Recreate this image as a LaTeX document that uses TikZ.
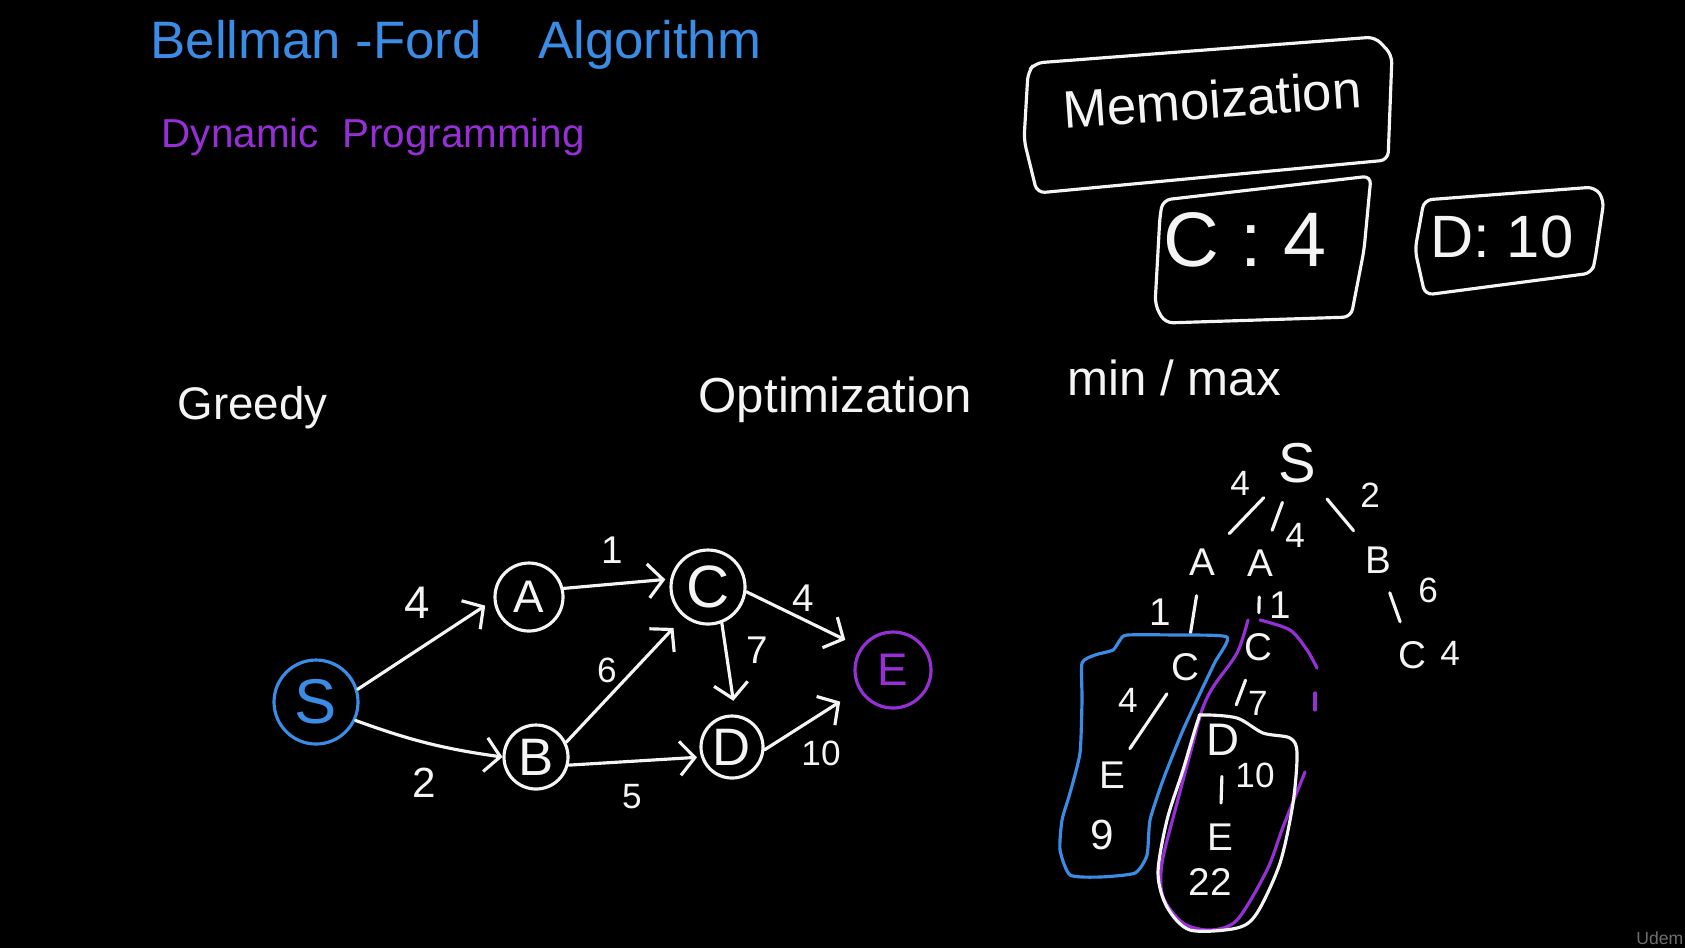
\documentclass[tikz,border=0pt]{standalone}
\usepackage{fontspec}
\setmainfont{Liberation Sans}
\usetikzlibrary{positioning, calc, arrows.meta}

\definecolor{chalk}{RGB}{244,244,244}
\definecolor{penblue}{RGB}{58,140,228}
\definecolor{penpurple}{RGB}{150,48,214}
\definecolor{logogray}{RGB}{110,110,110}
\newcommand{\fsz}[1]{\fontsize{#1}{#1}\selectfont}

\begin{document}
\begin{tikzpicture}[
  x=0.1mm, y=-0.1mm,
  %% pen strokes
  ink/.style={draw=chalk, line width=0.9pt, line cap=round, line join=round},
  %% handwritten words
  hand/.style={text=chalk, inner sep=0pt, font=\fsz{14}},
  %% graph vertices
  vtx/.style={circle, draw=chalk, line width=0.9pt, inner sep=0pt,
    text=chalk, font=\fsz{15}},
  %% edge weights
  wt/.style={text=chalk, inner sep=0pt, font=\fsz{12}},
  %% tree entries
  tnode/.style={text=chalk, inner sep=0pt, font=\fsz{11}},
  %% arrows
  arr/.style={ink, -{Straight Barb[length=1.5mm, width=3.4mm]}},
  %% tree strokes
  tedge/.style={ink, shorten >=2mm, shorten <=2mm}
]

%% ================================================================
%% BOARD
%% ================================================================
\useasboundingbox (0,0) rectangle (1685,948);
\fill[black] (0,0) rectangle (1685,948);

%% ================================================================
%% HEADINGS
%% ================================================================
\node[hand, text=penblue, font=\fsz{15}, anchor=west] (title) at (150,45)
  {Bellman -Ford\hspace{0.8em} Algorithm};
\node[hand, text=penpurple, font=\fsz{11.5}, anchor=west] (dynprog) at (161,137)
  {Dynamic\hspace{0.3em} Programming};

\node[hand, font=\fsz{13}, anchor=west] (greedy) at (177,408) {Greedy};
\node[hand, anchor=west] (optim) at (698,400) {Optimization};
\node[hand, anchor=west] (minmax) at (1067,378) {min / max};

%% ================================================================
%% MEMO TABLE
%% ================================================================
\node[hand, font=\fsz{15}, rotate=4] (memo) at (1212,99) {Memoization};
\draw[ink, rounded corners=0.8mm] (1035,63) -- (1375,37) -- (1392,55)
  -- (1388,160) -- (1037,193) -- (1024,140) -- (1028,72) -- cycle;

\node[hand, font=\fsz{22}] (memoC) at (1245,240) {C : 4};
\draw[ink, rounded corners=0.8mm] (1163,200) -- (1371,176) -- (1364,250)
  -- (1351,317) -- (1165,323) -- (1155,305) -- (1160,215) -- cycle;

\node[hand, font=\fsz{17}] (memoD) at (1502,237) {D: 10};
\draw[ink, rounded corners=0.8mm] (1424,200) -- (1595,187) -- (1604,200)
  -- (1595,260) -- (1592,273) -- (1425,295) -- (1415,250) -- cycle;

%% ================================================================
%% GRAPH
%% ================================================================
\node[vtx, draw=penblue, text=penblue, minimum size=8.4mm, font=\fsz{18}] (S) at (316,702) {S};
\node[vtx, minimum size=6.8mm, font=\fsz{13}] (A) at (529,597) {A};
\node[vtx, minimum size=6.4mm] (B) at (536,757) {B};
\node[vtx, minimum size=7.4mm, font=\fsz{17}] (C) at (708,587) {C};
\node[vtx, minimum size=6.2mm] (D) at (732,747) {D};
\node[vtx, draw=penpurple, text=penpurple, minimum size=7.6mm, font=\fsz{13}] (E) at (893,670) {E};

\draw[arr, shorten >=1mm] (S.17) -- (A.185);
\draw[arr] (S.-25) to[bend right=6] (B.180);
\draw[arr, shorten >=0.5mm] (A.14) -- (C.168);
\draw[arr, shorten >=1.5mm] (B.26) -- (C.231);
\draw[arr, shorten >=0.4mm] (B.-14) -- (D.198);
\draw[arr, shorten >=1.4mm] (C.-69) -- (D.84);
\draw[arr, shorten >=1.7mm] (C.-7) -- (E.145);
\draw[arr, shorten >=2.2mm] (D.-5) -- (E.210);

%% edge weights
\node[wt, font=\fsz{13}] (wSA) at (417,603) {4};
\node[wt] (wSB) at (424,783) {2};
\node[wt, font=\fsz{11}] (wAC) at (612,550) {1};
\node[wt, font=\fsz{10}] (wBC) at (607,670) {6};
\node[wt, font=\fsz{10}] (wBD) at (632,797) {5};
\node[wt, font=\fsz{11}] (wCD) at (757,650) {7};
\node[wt, font=\fsz{11}] (wCE) at (803,598) {4};
\node[wt, font=\fsz{10}] (wDE) at (821,753) {10};

%% ================================================================
%% RECURSION TREE
%% ================================================================
\node[tnode, font=\fsz{16}] (tS) at (1297,463) {S};
\node[tnode] (tA1) at (1202,562) {A};
\node[tnode] (tA2) at (1260,563) {A};
\node[tnode] (tB) at (1378,560) {B};
\node[tnode] (tC1) at (1185,667) {C};
\node[tnode] (tC2) at (1258,647) {C};
\node[tnode] (tC3) at (1412,655) {C};
\node[tnode] (tE1) at (1112,775) {E};
\node[tnode, font=\fsz{13}] (tD) at (1223,740) {D};
\node[tnode] (tE2) at (1220,837) {E};

\draw[tedge] (tS) -- (tA1);
\draw[tedge] (tS) -- (tA2);
\draw[tedge] (tS) -- (tB);
\draw[tedge] (tA1) -- (tC1);
\draw[tedge] (tA2) -- (tC2);
\draw[tedge] (tB) -- (tC3);
\draw[tedge, shorten >=1.5mm, shorten <=1.5mm] (tC1) -- (tE1);
\draw[tedge] (tC2) -- (tD);
\draw[tedge] (tD) -- (tE2);

%% tree weights and totals
\node[wt, font=\fsz{10}] (twSA1) at (1240,483) {4};
\node[wt, font=\fsz{10}] (twSA2) at (1295,535) {4};
\node[wt, font=\fsz{10}] (twSB) at (1370,495) {2};
\node[wt, font=\fsz{11}] (twAC1) at (1160,612) {1};
\node[wt, font=\fsz{11}] (twAC2) at (1280,605) {1};
\node[wt, font=\fsz{10}] (twBC) at (1428,590) {6};
\node[wt, font=\fsz{10}] (tcost) at (1450,653) {4};
\node[wt, font=\fsz{10}] (twCE) at (1128,700) {4};
\node[wt, font=\fsz{10}] (twCD) at (1258,703) {7};
\node[wt, font=\fsz{10}] (twDE) at (1255,775) {10};
\node[wt, font=\fsz{12}] (tsum1) at (1102,835) {9};
\node[wt, font=\fsz{11}] (tsum2) at (1210,882) {22};

%% rings round the sub-problems
\draw[ink, draw=penblue] plot[smooth cycle, tension=0.35] coordinates {
  (1127,635) (1175,635) (1227,637) (1215,662) (1203,687) (1183,730)
  (1163,780) (1150,820) (1147,855) (1135,873) (1100,877) (1070,875)
  (1060,850) (1062,820) (1070,793) (1080,753) (1082,700) (1082,663)
  (1095,655) (1113,650) (1120,640)};
\draw[ink, draw=penpurple] plot[smooth, tension=0.5] coordinates {
  (1305,772) (1283,827) (1267,870) (1237,920) (1210,930) (1183,923)
  (1163,897) (1162,863) (1177,803) (1193,743) (1202,710) (1213,687)
  (1237,653) (1248,620)};
\draw[ink, draw=penpurple] plot[smooth, tension=0.5] coordinates {
  (1260,620) (1290,630) (1307,650) (1317,668)};
\draw[ink, draw=penpurple] (1315,693) -- (1315,710);
\draw[ink] plot[smooth cycle, tension=0.5] coordinates {
  (1203,715) (1237,718) (1263,733) (1290,738) (1297,753) (1293,803)
  (1280,863) (1257,913) (1237,928) (1190,930) (1167,907) (1158,873)
  (1167,820) (1183,770) (1198,720)};

%% ================================================================
%% WATERMARK
%% ================================================================
\node[text=logogray, font=\fsz{5}, anchor=east, inner sep=0pt] (udem) at (1684,938) {Udem};

\end{tikzpicture}
\end{document}
